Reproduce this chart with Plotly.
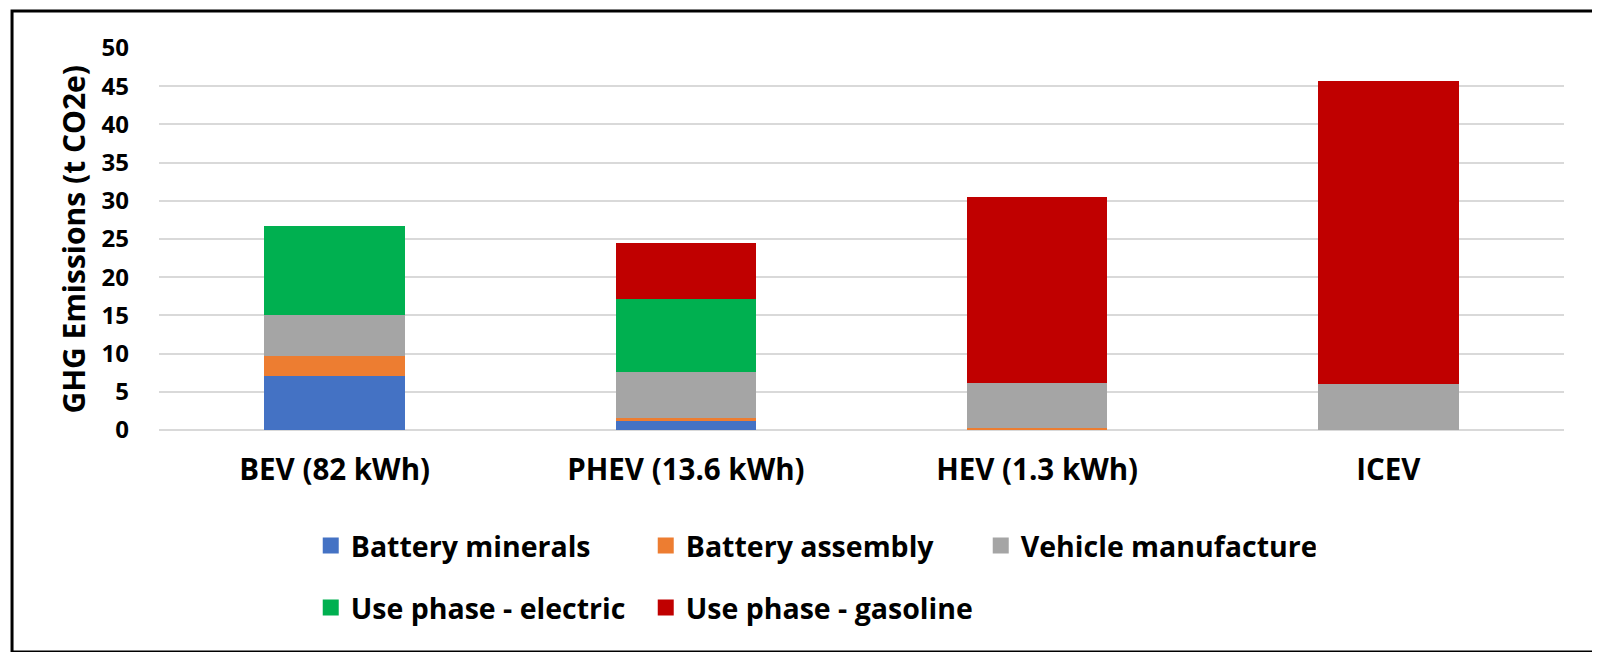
import plotly.graph_objects as go

# Values (t CO2e)
categories = ["BEV (82 kWh)", "PHEV (13.6 kWh)", "HEV (1.3 kWh)", "ICEV"]
battery_minerals = [7.05, 1.2, 0.05, 0]
battery_assembly = [2.6, 0.35, 0.15, 0]
vehicle_manufacture = [5.35, 6.05, 5.9, 5.97]
use_electric = [11.65, 9.6, 0, 0]
use_gasoline = [0, 7.3, 24.35, 39.7]

series = [
    ("Battery minerals", battery_minerals, "#4472C4", "legend"),
    ("Battery assembly", battery_assembly, "#ED7D31", "legend"),
    ("Vehicle manufacture", vehicle_manufacture, "#A5A5A5", "legend"),
    ("Use phase - electric", use_electric, "#00B050", "legend2"),
    ("Use phase - gasoline", use_gasoline, "#C00000", "legend2"),
]

FONT = "Open Sans"

fig = go.Figure()
for name, vals, color, leg in series:
    fig.add_trace(go.Bar(
        x=categories, y=vals, name=name,
        marker=dict(color=color, line=dict(width=0)),
        showlegend=False,
    ))
    # legend entry with a bigger square swatch
    fig.add_trace(go.Scatter(
        x=[None], y=[None], mode="markers", name=name,
        marker=dict(symbol="square", size=16, color=color),
        legend=leg, hoverinfo="skip",
    ))

legend_common = dict(
    orientation="h", xanchor="left", yanchor="middle",
    traceorder="normal",
    entrywidth=290, entrywidthmode="pixels",
    itemsizing="trace",
    font=dict(family=FONT, size=28.5, color="black", weight="bold"),
    bgcolor="rgba(0,0,0,0)",
)

fig.update_layout(
    width=1600, height=652,
    barmode="stack", bargap=0.6,
    paper_bgcolor="white", plot_bgcolor="white",
    margin=dict(l=151, r=44, t=40, b=230),
    font=dict(family=FONT, color="black"),
    legend=dict(x=0.108, y=-0.3037, **legend_common),
    legend2=dict(x=0.108, y=-0.466, **legend_common),
    xaxis=dict(
        showgrid=False, showline=False, ticks="",
        tickfont=dict(family=FONT, size=29.5, color="black", weight="bold"),
        ticklabelstandoff=19,
    ),
    yaxis=dict(
        range=[0, 50], dtick=5, showline=False, ticks="",
        gridcolor="#D9D9D9", gridwidth=1.5,
        zeroline=True, zerolinecolor="#D9D9D9", zerolinewidth=1.5,
        tickfont=dict(family=FONT, size=24, color="black", weight="bold"),
        ticklabelstandoff=29,
    ),
    annotations=[dict(
        text="GHG Emissions (t CO2e)", textangle=-90,
        xref="paper", yref="paper", x=-0.0615, y=0.5,
        showarrow=False, xanchor="center", yanchor="middle",
        font=dict(family=FONT, size=30, color="black", weight="bold"),
    )],
    shapes=[dict(
        type="rect", xref="paper", yref="paper",
        x0=-0.1046, x1=1.0256, y0=-0.581, y1=1.097,
        line=dict(color="black", width=3), fillcolor="rgba(0,0,0,0)",
    )],
)

fig.write_html("out.html")
